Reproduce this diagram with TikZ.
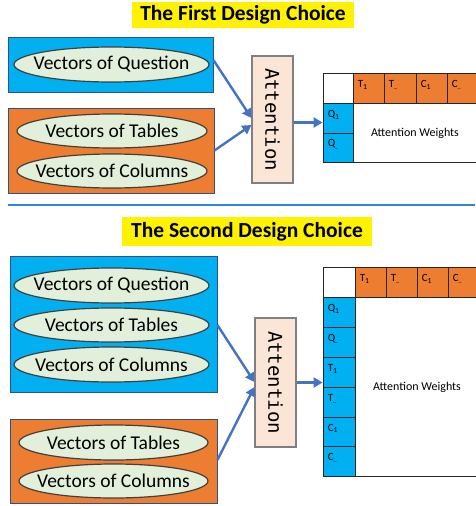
\documentclass[tikz,border=0pt]{standalone}
\usepackage{fontspec}
\setmainfont{Carlito}
\newfontfamily\attmono{DejaVu Sans Mono}
\usetikzlibrary{shapes.geometric,arrows.meta,calc}
\definecolor{boxblue}{HTML}{00B0F0}
\definecolor{boxorange}{HTML}{ED7D31}
\definecolor{ellfill}{HTML}{E2EFDA}
\definecolor{attfill}{HTML}{FBE5D6}
\definecolor{arrblue}{HTML}{4472C4}
\definecolor{sepblue}{HTML}{2E86DE}
\definecolor{cellline}{HTML}{262626}
\tikzset{
  titlebox/.style={fill=yellow, inner sep=0pt, font=\bfseries\fontsize{21.5}{24}\selectfont},
  groupbox/.style={draw=arrblue!70!black, line width=0.8pt, inner sep=0pt},
  vec/.style={ellipse, draw=black!75, line width=1.2pt, fill=ellfill, inner sep=0pt, minimum height=35pt},
  vectext/.style={font=\fontsize{19.5}{22}\selectfont, inner sep=0pt},
  attbox/.style={draw=black!50, line width=1.2pt, fill=attfill, inner sep=0pt, minimum width=41pt},
  atttext/.style={font=\attmono\fontsize{19}{20}\selectfont, rotate=-90},
  conn/.style={draw=arrblue, line width=2.4pt, -{Triangle[length=9pt,width=10pt]}},
  cell/.style={draw=cellline, line width=0.8pt, inner sep=0pt},
  lab/.style={font=\fontsize{11}{13}\selectfont, inner sep=0pt, anchor=west},
  wlab/.style={font=\fontsize{12}{14}\selectfont, inner sep=0pt}
}
\newcommand{\sdots}{\textsubscript{\fontsize{6}{6}\selectfont\_\,}}
\begin{document}
\begin{tikzpicture}[x=1pt,y=-1pt]
\useasboundingbox (0,0) rectangle (475,506);

% ---------------- First design choice ----------------
\node[titlebox, minimum width=222pt, minimum height=26pt] (title1) at (243,15) {The First Design Choice};

\node[groupbox, fill=boxblue, minimum width=205pt, minimum height=55pt] (qbox1) at (110.5,64.5) {};
\node[vec, minimum width=195pt] (q1) at (111.5,64.5) {};
\node[vectext] (q1t) at (q1.center) {Vectors of Question};

\node[groupbox, fill=boxorange, minimum width=206pt, minimum height=85pt] (tbox1) at (111,150.5) {};
\node[vec, minimum width=190pt, minimum height=34pt] (t1) at (112,131) {};
\node[vectext] (t1t) at (t1.center) {Vectors of Tables};
\node[vec, minimum width=190pt, minimum height=34pt] (c1) at (112,171) {};
\node[vectext] (c1t) at (c1.center) {Vectors of Columns};

\node[attbox, minimum height=127pt] (att1) at (272.5,119.5) {};
\node[atttext] (att1t) at (att1.center) {Attention};

\draw[conn] ([yshift=4.5pt]qbox1.east) -- ([yshift=1.5pt]att1.west);
\draw[conn] (tbox1.east) -- ([yshift=-5.5pt]att1.west);

% matrix 1
\node[cell, fill=white, minimum width=30pt, minimum height=30pt] (m1c) at (338,88) {};
\node[cell, fill=boxorange, minimum width=31pt, minimum height=30pt] (m1h1) at (368.5,88) {};
\node[cell, fill=boxorange, minimum width=32pt, minimum height=30pt] (m1h2) at (400,88) {};
\node[cell, fill=boxorange, minimum width=31pt, minimum height=30pt] (m1h3) at (431.5,88) {};
\node[cell, fill=boxorange, minimum width=31pt, minimum height=30pt] (m1h4) at (462.5,88) {};
\node[cell, fill=boxblue, minimum width=30pt, minimum height=30pt] (m1r1) at (338,118) {};
\node[cell, fill=boxblue, minimum width=30pt, minimum height=29pt] (m1r2) at (338,147.5) {};
\node[cell, fill=white, minimum width=125pt, minimum height=59pt] (m1w) at (415.5,132.5) {};
\node[wlab] (m1wt) at (415,133) {Attention Weights};
\node[lab] (l1h1) at ([xshift=5pt,yshift=3pt]m1h1.west) {T\textsubscript{1}};
\node[lab] (l1h2) at ([xshift=5pt,yshift=3pt]m1h2.west) {T\sdots};
\node[lab] (l1h3) at ([xshift=5pt,yshift=3pt]m1h3.west) {C\textsubscript{1}};
\node[lab] (l1h4) at ([xshift=5pt,yshift=3pt]m1h4.west) {C\sdots};
\node[lab] (l1r1) at ([xshift=5pt,yshift=3pt]m1r1.west) {Q\textsubscript{1}};
\node[lab] (l1r2) at ([xshift=5pt,yshift=3pt]m1r2.west) {Q\sdots};

\draw[conn] ([yshift=-3pt]att1.east) -- ([yshift=-3pt]att1.east -| m1r1.west);

% separator
\coordinate (sepL) at (8,205);
\coordinate (sepR) at (475,205);
\draw[sepblue, line width=1.5pt] (sepL) -- (sepR);

% ---------------- Second design choice ----------------
\node[titlebox, minimum width=250pt, minimum height=29pt] (title2) at (247,231.5) {The Second Design Choice};

\node[groupbox, fill=boxblue, minimum width=207pt, minimum height=136pt] (qbox2) at (113.5,324) {};
\node[vec, minimum width=195pt] (q2) at (111.5,285.5) {};
\node[vectext] (q2t) at (q2.center) {Vectors of Question};
\node[vec, minimum width=195pt, minimum height=34pt] (t2) at (111.5,325) {};
\node[vectext] (t2t) at (t2.center) {Vectors of Tables};
\node[vec, minimum width=195pt] (c2) at (111.5,364.5) {};
\node[vectext] (c2t) at (c2.center) {Vectors of Columns};

\node[groupbox, fill=boxorange, minimum width=207pt, minimum height=84pt] (tbox2) at (113.5,461) {};
\node[vec, minimum width=189pt] (t3) at (113.5,442.5) {};
\node[vectext] (t3t) at (t3.center) {Vectors of Tables};
\node[vec, minimum width=189pt, minimum height=34pt] (c3) at (113.5,481) {};
\node[vectext] (c3t) at (c3.center) {Vectors of Columns};

\node[attbox, minimum height=129pt] (att2) at (275.5,382.5) {};
\node[atttext] (att2t) at (att2.center) {Attention};

\draw[conn] ([yshift=-1pt]qbox2.east) -- ([yshift=0.5pt]att2.west);
\draw[conn] ([yshift=1pt]tbox2.east) -- ([yshift=-4.5pt]att2.west);

% matrix 2
\node[cell, fill=white, minimum width=32pt, minimum height=30pt] (m2c) at (339,282) {};
\node[cell, fill=boxorange, minimum width=31pt, minimum height=30pt] (m2h1) at (370.5,282) {};
\node[cell, fill=boxorange, minimum width=31pt, minimum height=30pt] (m2h2) at (401.5,282) {};
\node[cell, fill=boxorange, minimum width=31pt, minimum height=30pt] (m2h3) at (432.5,282) {};
\node[cell, fill=boxorange, minimum width=31pt, minimum height=30pt] (m2h4) at (463.5,282) {};
\node[cell, fill=boxblue, minimum width=32pt, minimum height=30pt] (m2r1) at (339,312) {};
\node[cell, fill=boxblue, minimum width=32pt, minimum height=30pt] (m2r2) at (339,342) {};
\node[cell, fill=boxblue, minimum width=32pt, minimum height=30pt] (m2r3) at (339,372) {};
\node[cell, fill=boxblue, minimum width=32pt, minimum height=30pt] (m2r4) at (339,402) {};
\node[cell, fill=boxblue, minimum width=32pt, minimum height=29pt] (m2r5) at (339,431.5) {};
\node[cell, fill=boxblue, minimum width=32pt, minimum height=30pt] (m2r6) at (339,461) {};
\node[cell, fill=white, minimum width=124pt, minimum height=179pt] (m2w) at (417,386.5) {};
\node[wlab] (m2wt) at (417,387) {Attention Weights};
\node[lab] (l2h1) at ([xshift=5pt,yshift=3pt]m2h1.west) {T\textsubscript{1}};
\node[lab] (l2h2) at ([xshift=5pt,yshift=3pt]m2h2.west) {T\sdots};
\node[lab] (l2h3) at ([xshift=5pt,yshift=3pt]m2h3.west) {C\textsubscript{1}};
\node[lab] (l2h4) at ([xshift=5pt,yshift=3pt]m2h4.west) {C\sdots};
\node[lab] (l2r1) at ([xshift=5pt,yshift=3pt]m2r1.west) {Q\textsubscript{1}};
\node[lab] (l2r2) at ([xshift=5pt,yshift=3pt]m2r2.west) {Q\sdots};
\node[lab] (l2r3) at ([xshift=5pt,yshift=3pt]m2r3.west) {T\textsubscript{1}};
\node[lab] (l2r4) at ([xshift=5pt,yshift=3pt]m2r4.west) {T\sdots};
\node[lab] (l2r5) at ([xshift=5pt,yshift=3pt]m2r5.west) {C\textsubscript{1}};
\node[lab] (l2r6) at ([xshift=5pt,yshift=3pt]m2r6.west) {C\sdots};

\draw[conn] (att2.east) -- (att2.east -| m2r1.west);
\end{tikzpicture}
\end{document}
